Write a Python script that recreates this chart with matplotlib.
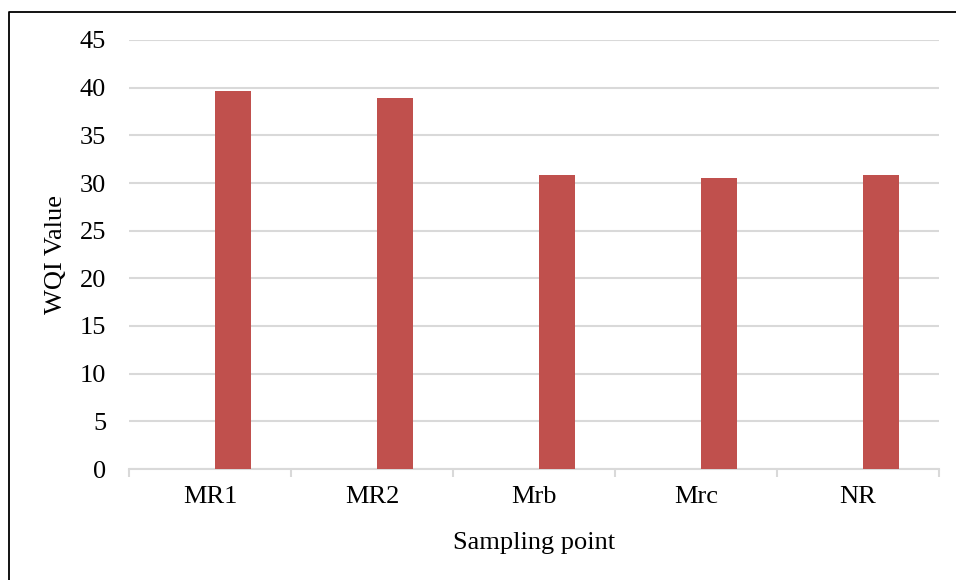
import numpy as np
import matplotlib
matplotlib.use("Agg")
import matplotlib.pyplot as plt
from matplotlib.lines import Line2D

# WQI per sampling point
points = ["MR1", "MR2", "Mrb", "Mrc", "NR"]
wqi = [39.6, 38.9, 30.8, 30.5, 30.8]
y_ticks = [0, 5, 10, 15, 20, 25, 30, 35, 40, 45]

plt.rcParams["font.family"] = ["Liberation Serif", "DejaVu Serif"]
grid_col = "#d9d9d9"
bar_col = "#C0504D"

W, H = 956, 580
fig = plt.figure(figsize=(W / 100, H / 100), dpi=100)
ax = fig.add_axes([129 / W, (H - 469) / H, (939 - 129) / W, (469 - 40) / H])

x = np.arange(len(points))
ax.bar(x + 0.142, wqi, width=0.222, color=bar_col, zorder=3)

ax.set_xlim(-0.5, len(points) - 0.5)
ax.set_ylim(0, 45)
ax.set_yticks(y_ticks)
ax.tick_params(axis="y", length=0, pad=16.5, labelsize=19)
ax.yaxis.grid(True, color=grid_col, linewidth=1.5, zorder=0)
ax.set_axisbelow(True)

# category boundaries carry the tick marks, labels sit at the centres
ax.set_xticks(np.arange(-0.5, len(points)), labels=[])
ax.set_xticks(x, labels=points, minor=True)
ax.tick_params(axis="x", which="major", length=6, width=1.5, color=grid_col, direction="out")
ax.tick_params(axis="x", which="minor", length=0, pad=12, labelsize=19)

for s in ["left", "right", "top"]:
    ax.spines[s].set_visible(False)
ax.spines["bottom"].set_color(grid_col)
ax.spines["bottom"].set_linewidth(1.5)

fig.text(56 / W, 1 - 254 / H, "WQI Value", rotation=90, ha="center", va="center", fontsize=19)
fig.text(534 / W, 1 - 549 / H, "Sampling point", ha="center", va="baseline", fontsize=19)

# outer frame (left and top edges)
fig.add_artist(Line2D([8.5 / W, 8.5 / W, 1.0], [0.0, 1 - 11.5 / H, 1 - 11.5 / H],
                      transform=fig.transFigure, color="black", linewidth=1.3))

fig.savefig("out.png", dpi=100)
